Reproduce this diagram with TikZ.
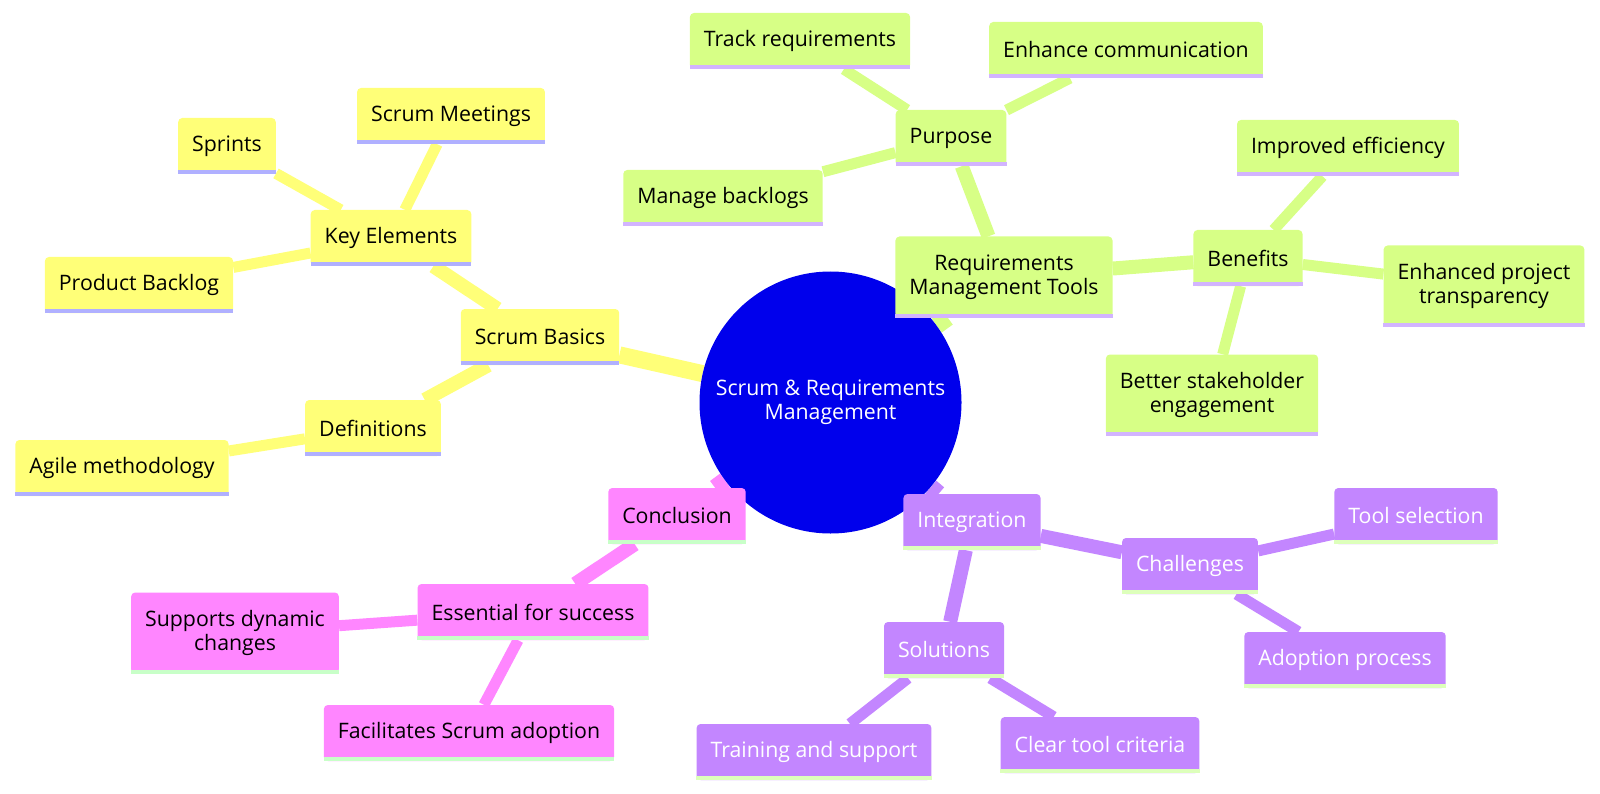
\documentclass[tikz,border=0pt]{standalone}
\usepackage{fontspec}
\setmainfont{Open Sans}
\usetikzlibrary{backgrounds}
\definecolor{rootblue}{HTML}{0000EC}
\definecolor{yfill}{HTML}{FFFF78}
\definecolor{yline}{HTML}{B0B0FF}
\definecolor{gfill}{HTML}{D7FF86}
\definecolor{gline}{HTML}{D2B4FF}
\definecolor{pfill}{HTML}{C386FF}
\definecolor{pline}{HTML}{DDFFBB}
\definecolor{kfill}{HTML}{FF86FF}
\definecolor{kline}{HTML}{C8FFC8}

\begin{document}
\begin{tikzpicture}[
x=1pt,y=-1pt,
mm/.style={fill=#1,rounded corners=4pt,inner xsep=14pt,inner ysep=0pt,minimum height=56pt,align=center,font=\fontsize{21.3}{24}\selectfont},
two/.style={minimum height=81pt},
d0/.style={line width=17pt},
d1/.style={line width=14pt},
d2/.style={line width=11pt}
]
\useasboundingbox (0,0) rectangle (1600,794);

% root
\node[circle,fill=rootblue,minimum size=262pt,inner sep=0pt,text=white,align=center,font=\fontsize{21.3}{24}\selectfont] (root) at (830.5,402.5) {Scrum \& Requirements\\Management};

% scrum basics
\node[mm=yfill] (sb) at (540,337) {Scrum Basics};
\node[mm=yfill] (ke) at (391,238) {Key Elements};
\node[mm=yfill] (sp) at (227,146) {Sprints};
\node[mm=yfill] (sm) at (451,116) {Scrum Meetings};
\node[mm=yfill] (pb) at (139,285) {Product Backlog};
\node[mm=yfill] (df) at (373,428) {Definitions};
\node[mm=yfill] (am) at (122,468) {Agile methodology};

% tools
\node[mm=gfill,two] (rmt) at (1004,277) {Requirements\\Management Tools};
\node[mm=gfill] (pu) at (951,138) {Purpose};
\node[mm=gfill] (tr) at (800,41) {Track requirements};
\node[mm=gfill] (ec) at (1126,50) {Enhance communication};
\node[mm=gfill] (mb) at (723,198) {Manage backlogs};
\node[mm=gfill] (be) at (1248,258) {Benefits};
\node[mm=gfill] (ie) at (1348,148) {Improved efficiency};
\node[mm=gfill,two] (ept) at (1484,286) {Enhanced project\\transparency};
\node[mm=gfill,two] (bse) at (1212,395) {Better stakeholder\\engagement};

% integration
\node[mm=pfill,text=white] (integ) at (972,522) {Integration};
\node[mm=pfill,text=white] (ch) at (1190,566) {Challenges};
\node[mm=pfill,text=white] (ts) at (1416,516) {Tool selection};
\node[mm=pfill,text=white] (ap) at (1345,660) {Adoption process};
\node[mm=pfill,text=white] (so) at (944,650) {Solutions};
\node[mm=pfill,text=white] (tas) at (814,752) {Training and support};
\node[mm=pfill,text=white] (ctc) at (1100,745) {Clear tool criteria};

% conclusion
\node[mm=kfill] (co) at (677,516) {Conclusion};
\node[mm=kfill] (efs) at (533,612) {Essential for success};
\node[mm=kfill,two] (sdc) at (235,633) {Supports dynamic\\changes};
\node[mm=kfill] (fsa) at (469,733) {Facilitates Scrum adoption};

% bottom bars
\foreach \n in {sb,ke,sp,sm,pb,df,am}
  \fill[yline] (\n.south west) rectangle ([yshift=4pt]\n.south east);
\foreach \n in {rmt,pu,tr,ec,mb,be,ie,ept,bse}
  \fill[gline] (\n.south west) rectangle ([yshift=4pt]\n.south east);
\foreach \n in {integ,ch,ts,ap,so,tas,ctc}
  \fill[pline] (\n.south west) rectangle ([yshift=4pt]\n.south east);
\foreach \n in {co,efs,sdc,fsa}
  \fill[kline] (\n.south west) rectangle ([yshift=4pt]\n.south east);

% edges
\begin{scope}[on background layer]
\draw[d0,yfill] (root)--(sb);
\draw[d1,yfill] (sb)--(ke); \draw[d1,yfill] (sb)--(df);
\draw[d2,yfill] (ke)--(sp); \draw[d2,yfill] (ke)--(sm); \draw[d2,yfill] (ke)--(pb); \draw[d2,yfill] (df)--(am);
\draw[d0,gfill] (root)--(rmt);
\draw[d1,gfill] (rmt)--(pu); \draw[d1,gfill] (rmt)--(be);
\draw[d2,gfill] (pu)--(tr); \draw[d2,gfill] (pu)--(ec); \draw[d2,gfill] (pu)--(mb);
\draw[d2,gfill] (be)--(ie); \draw[d2,gfill] (be)--(ept); \draw[d2,gfill] (be)--(bse);
\draw[d0,pfill] (root)--(integ);
\draw[d1,pfill] (integ)--(ch); \draw[d1,pfill] (integ)--(so);
\draw[d2,pfill] (ch)--(ts); \draw[d2,pfill] (ch)--(ap); \draw[d2,pfill] (so)--(tas); \draw[d2,pfill] (so)--(ctc);
\draw[d0,kfill] (root)--(co);
\draw[d1,kfill] (co)--(efs);
\draw[d2,kfill] (efs)--(sdc); \draw[d2,kfill] (efs)--(fsa);
\end{scope}
\end{tikzpicture}
\end{document}
